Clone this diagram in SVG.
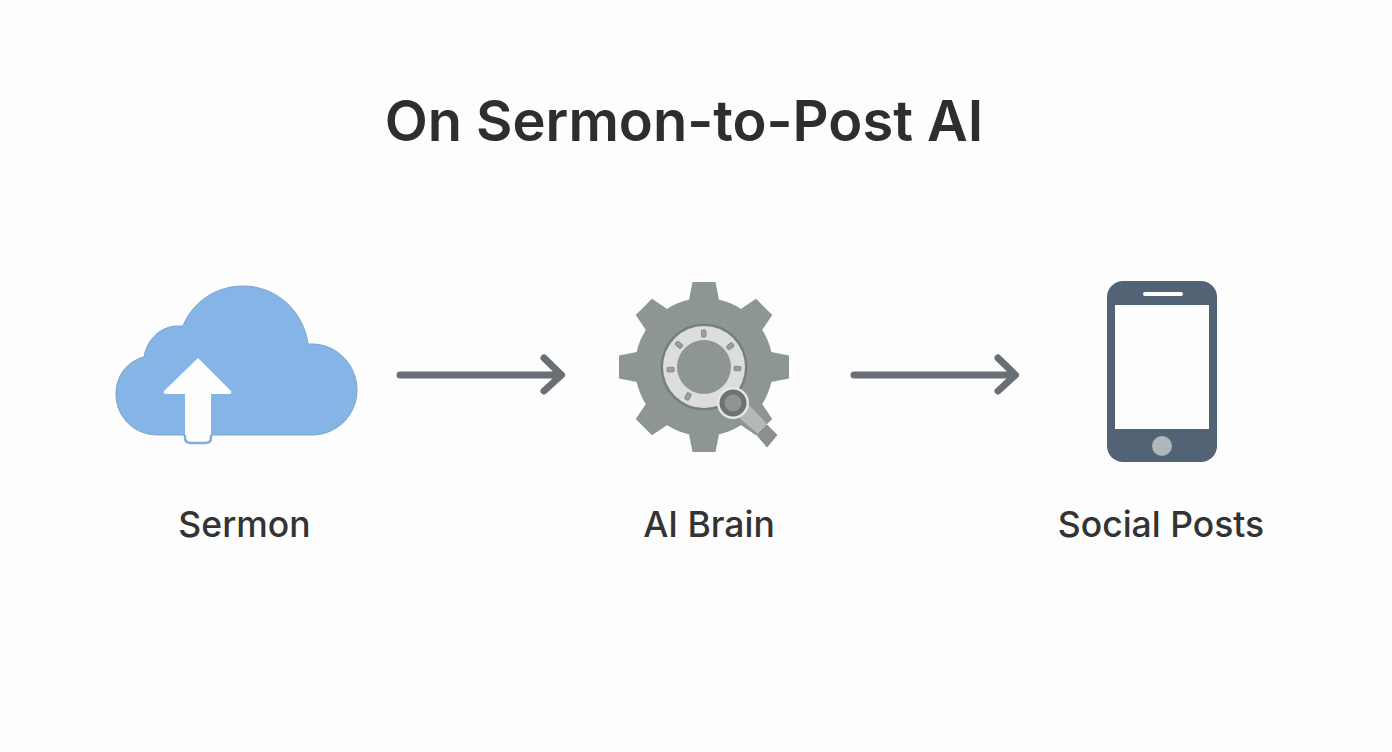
<svg xmlns="http://www.w3.org/2000/svg" width="1392" height="752" viewBox="0 0 1392 752">
<style>
text{font-family:"Inter","Liberation Sans",sans-serif;fill:#2e2e2e;text-anchor:middle}
.title{font-size:56px;font-weight:600}
.label{font-size:35.500px;font-weight:500;fill:#333}
.conn{fill:none;stroke:#6a6f76;stroke-width:7;stroke-linecap:round;stroke-linejoin:round}
.gear{fill:#8e9595}
.tick{fill:#9a9f9e;stroke:#858b8b;stroke-width:1}
</style>
<defs>
<path id="tooth" class="gear" d="M-17,-64 L-15,-67 L-11.500,-85 L11.500,-85 L15,-67 L17,-64 Z"/>
<rect id="tick" class="tick" x="-2.500" y="-37" width="4.500" height="7" rx="1.200"/>
</defs>
<rect width="1392" height="752" fill="#fdfdfd"/>
<text class="title" x="684" y="141">On Sermon-to-Post AI</text>
<g id="connectors">
<path class="conn" d="M400,375 H561 M544,358 L561.500,375 L544,391"/>
<path class="conn" d="M854,375 H1015 M998,358 L1015.500,375 L998,391"/>
</g>
<g id="sermon">
<path d="M158,435 C133,435 116,416 116,394 C116,375 128,361 144,357 C147,339 161,326 178,326 C180,326 181,326 183,326 C192,303 215,286 243,286 C277,286 304,312 308,344 L312,344 C337,344 357,365 357,390 C357,415 337,435 312,435 Z" fill="#84b5e6" stroke="#7fa3c9" stroke-width="1"/>
<path d="M198,358 L231,391 Q232.500,394 229,394 L211,394 L211,437 Q211,443 205,443 L191,443 Q185,443 185,437 L185,394 L167,394 Q162.500,394 164,391 Z" fill="#fefefe"/>
<path d="M185,435 L185,438 Q185,443 191,443 L205,443 Q211,443 211,438 L211,435" fill="none" stroke="#84add8" stroke-width="2.500"/>
<text class="label" x="244.500" y="537">Sermon</text>
</g>
<g id="ai-brain">
<circle class="gear" cx="704" cy="367" r="69"/>
<g transform="translate(704 367)">
<use href="#tooth"/>
<use href="#tooth" transform="rotate(45)"/>
<use href="#tooth" transform="rotate(90)"/>
<use href="#tooth" transform="rotate(135)"/>
<use href="#tooth" transform="rotate(180)"/>
<use href="#tooth" transform="rotate(225)"/>
<use href="#tooth" transform="rotate(270)"/>
<use href="#tooth" transform="rotate(315)"/>
<circle r="43.500" fill="#777e7e"/>
<circle r="41" fill="#dcdedc"/>
<circle r="27" fill="#8e9595"/>
<use href="#tick"/>
<use href="#tick" transform="rotate(52)"/>
<use href="#tick" transform="rotate(93)"/>
<use href="#tick" transform="rotate(-48)"/>
<use href="#tick" transform="rotate(-94)"/>
<use href="#tick" transform="rotate(-151)"/>
</g>
<path d="M738,417 L747,403 L767,424 L758,434 Z" fill="#b3b9b5"/>
<path d="M757,435 L767,425 L777,435 L767,447 Z" fill="#8a9090" stroke="#8a9090" stroke-width="1" stroke-linejoin="round"/>
<circle cx="733" cy="403" r="16" fill="#e6e8e6"/>
<circle cx="733" cy="403" r="11" fill="#8e9595" stroke="#6d7373" stroke-width="5"/>
<text class="label" x="709" y="537">AI Brain</text>
</g>
<g id="social-posts">
<rect x="1107" y="281" width="110" height="181" rx="16" fill="#526376"/>
<rect x="1115" y="305" width="94" height="124" fill="#fefefe"/>
<rect x="1143" y="292" width="40" height="4" rx="2" fill="#fefefe"/>
<circle cx="1162" cy="446" r="10" fill="#b0b6ba"/>
<text class="label" x="1161" y="537">Social Posts</text>
</g>
</svg>
